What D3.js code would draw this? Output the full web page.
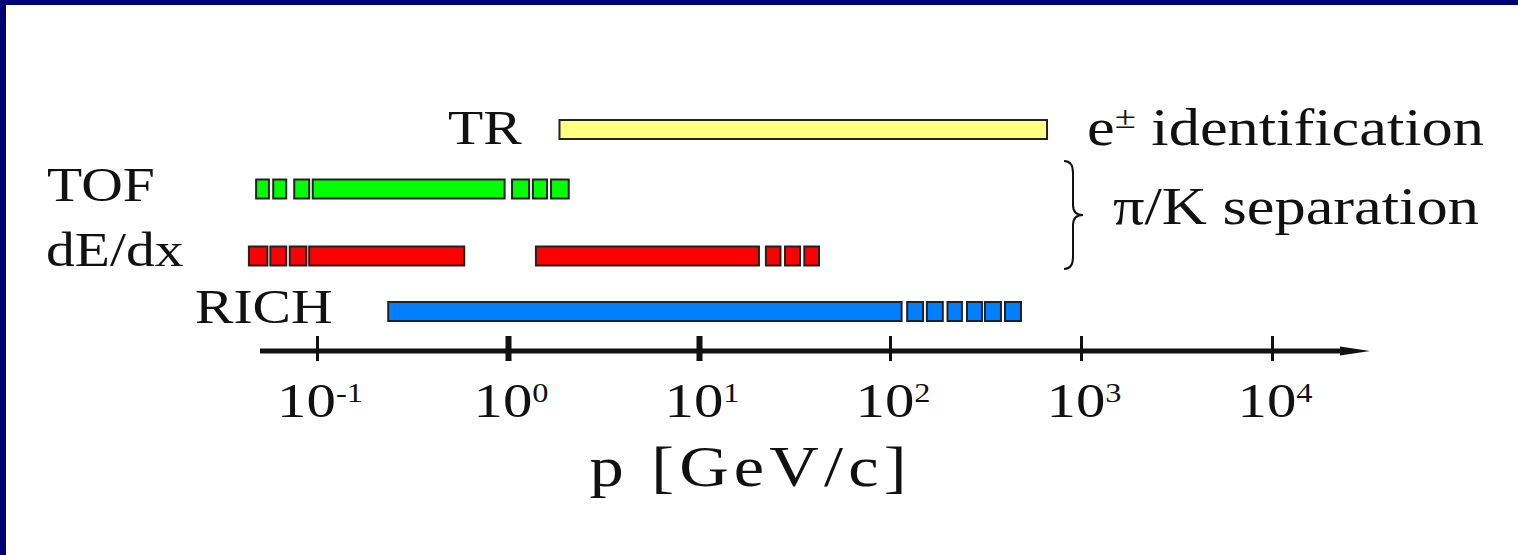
<!DOCTYPE html>
<html>
<head>
<meta charset="utf-8">
<script src="https://cdn.jsdelivr.net/npm/d3@7"></script>
<style>
  body { margin: 0; background: #fff; }
  text { font-family: "Liberation Serif", "DejaVu Serif", serif; fill: #111; }
</style>
</head>
<body>
<div id="chart"></div>
<script>
// detector rows and the momentum ranges (GeV/c) each one covers
var rows = ["TR", "TOF", "dE/dx", "RICH"];
var trSegments = [[1.86, 664]];
var tofSegments = [[0.048, 0.056], [0.059, 0.069], [0.076, 0.091], [0.095, 0.96],
                   [1.05, 1.29], [1.35, 1.60], [1.68, 2.08]];
var dedxSegments = [[0.044, 0.055], [0.057, 0.069], [0.072, 0.088], [0.091, 0.59],
                    [1.40, 20.6], [22.4, 26.7], [28.2, 33.8], [35.6, 42.5]];
var richSegments = [[0.236, 115], [123, 149], [156, 189], [200, 238],
                    [253, 303], [314, 381], [400, 485]];
var rowColors = ["#ffff80", "#00ff00", "#ff0000", "#0080ff"];
var tickValues = [0.1, 1, 10, 100, 1000, 10000];
var tickExponents = ["-1", "0", "1", "2", "3", "4"];
var boldTicks = [1, 10];
var axisTitle = "p [GeV/c]";

var width = 1518, height = 555;
var sx = 1.2; // the original lettering is stretched sideways

var svg = d3.select("#chart").append("svg")
    .attr("width", width)
    .attr("height", height);

// navy frame on top and left
svg.append("rect").attr("x", 0).attr("y", 0).attr("width", width).attr("height", 5).attr("fill", "#000078");
svg.append("rect").attr("x", 0).attr("y", 0).attr("width", 6).attr("height", height).attr("fill", "#000070");

var x = d3.scaleLog().domain([0.1, 10000]).range([317, 1272]);
var y = d3.scaleOrdinal().domain(rows).range([129.5, 189, 256, 311.5]);
var color = d3.scaleOrdinal().domain(rows).range(rowColors);
var barH = 19;
var axisY = 351;

var segs = [];
[trSegments, tofSegments, dedxSegments, richSegments].forEach(function(list, i) {
    list.forEach(function(s) { segs.push({row: rows[i], lo: s[0], hi: s[1]}); });
});

svg.selectAll(".seg")
    .data(segs)
    .enter().append("rect")
    .attr("class", "seg")
    .attr("x", function(d) { return x(d.lo); })
    .attr("y", function(d) { return y(d.row) - barH / 2; })
    .attr("width", function(d) { return x(d.hi) - x(d.lo); })
    .attr("height", barH)
    .attr("fill", function(d) { return color(d.row); })
    .attr("stroke", "#222")
    .attr("stroke-width", 2);

function stretched(px, py, anchor, size) {
    return svg.append("text")
        .attr("transform", "translate(" + px + "," + py + ") scale(" + sx + ",1)")
        .attr("text-anchor", anchor || "start")
        .attr("font-size", size || 48);
}

// row labels
var labelPos = {"TR": [448, 144], "TOF": [47, 201], "dE/dx": [46, 266], "RICH": [195, 323]};
rows.forEach(function(r) {
    stretched(labelPos[r][0], labelPos[r][1]).text(r);
});

// axis
svg.append("line")
    .attr("x1", 260).attr("x2", 1350)
    .attr("y1", axisY).attr("y2", axisY)
    .attr("stroke", "#111").attr("stroke-width", 5);
svg.append("path")
    .attr("d", "M1340," + (axisY - 4.5) + "L1370," + axisY + "L1340," + (axisY + 4.5) + "Z")
    .attr("fill", "#111");

var ax = svg.append("g")
    .attr("transform", "translate(0," + axisY + ")")
    .call(d3.axisBottom(x).tickValues(tickValues).tickSize(10).tickFormat(""));
ax.select(".domain").remove();
ax.selectAll(".tick line")
    .attr("y1", -15)
    .attr("stroke", "#111")
    .attr("stroke-width", function(d) { return boldTicks.indexOf(d) >= 0 ? 6 : 3; });

tickValues.forEach(function(v, i) {
    var t = stretched(x(v) + 3, 417, "middle", 49);
    t.append("tspan").text("10");
    t.append("tspan").attr("font-size", 27).attr("dy", -15).text(tickExponents[i]);
});

stretched(748, 486, "middle", 57)
    .attr("textLength", 317 / sx)
    .attr("lengthAdjust", "spacing")
    .text(axisTitle);

// brace around TOF and dE/dx
var bTop = y("TOF") - 28, bBot = y("dE/dx") + 13, bMid = (bTop + bBot) / 2;
var bx = 1064;
svg.append("path")
    .attr("d", "M" + bx + "," + bTop +
        "Q" + (bx + 9) + "," + bTop + " " + (bx + 9) + "," + (bTop + 12) +
        "L" + (bx + 9) + "," + (bMid - 10) +
        "Q" + (bx + 9) + "," + bMid + " " + (bx + 19) + "," + bMid +
        "Q" + (bx + 9) + "," + bMid + " " + (bx + 9) + "," + (bMid + 10) +
        "L" + (bx + 9) + "," + (bBot - 12) +
        "Q" + (bx + 9) + "," + bBot + " " + bx + "," + bBot)
    .attr("fill", "none")
    .attr("stroke", "#111")
    .attr("stroke-width", 2);

// right side notes
var e = stretched(1087, 145, "start", 52);
e.append("tspan").text("e");
e.append("tspan").attr("font-size", 32).attr("dy", -17).text("\u00b1");
e.append("tspan").attr("dy", 17).text(" identification");

stretched(1113, 224, "start", 52).text("\u03c0/K separation");
</script>
</body>
</html>
